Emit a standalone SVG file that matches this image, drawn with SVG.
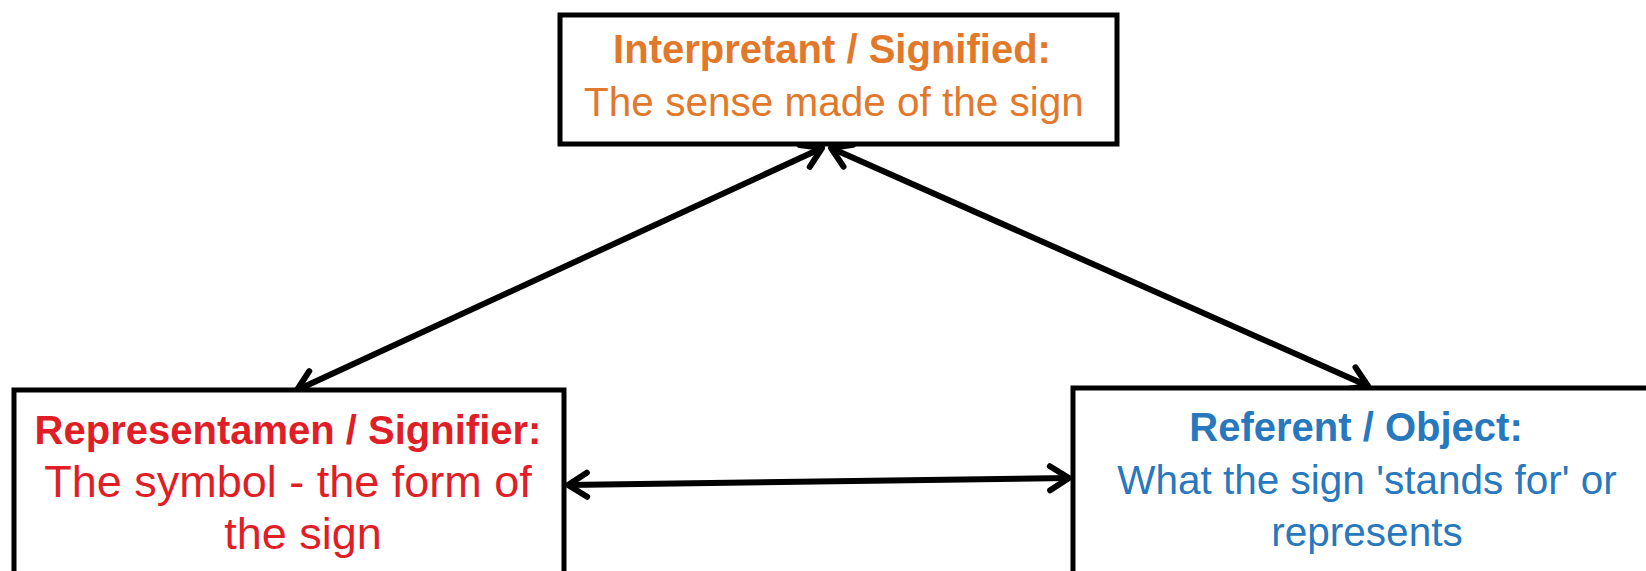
<svg xmlns="http://www.w3.org/2000/svg" width="1646" height="571" viewBox="0 0 1646 571">
<defs>
<style>
.box{fill:#fff;stroke:#000;stroke-width:5}
.t{font-family:"Liberation Sans",Arial,sans-serif;font-size:40.5px;text-anchor:middle}
.b{font-weight:bold;font-size:40px}
.big{font-size:45px}
.or{fill:#E2782A}
.rd{fill:#E01E25}
.bl{fill:#2878BE}
.con{stroke:#000;stroke-width:6;fill:none;marker-start:url(#arr);marker-end:url(#arr)}
</style>
<marker id="arr" viewBox="-4 -16 30 32" refX="22" refY="0" markerWidth="30" markerHeight="32" markerUnits="userSpaceOnUse" orient="auto-start-reverse">
<path d="M3,-12 L22,0 L3,12" fill="none" stroke="#000" stroke-width="6" stroke-linecap="round" stroke-linejoin="round"/>
</marker>
</defs>
<rect width="1646" height="571" fill="#fff"/>
<g id="connectors">
<line class="con" x1="822" y1="148" x2="297" y2="390"/>
<line class="con" x1="831" y1="148" x2="1368" y2="386"/>
<line class="con" x1="568" y1="485" x2="1069" y2="478"/>
</g>
<g id="interpretant">
<rect class="box" x="560" y="15" width="557" height="129"/>
<text class="t b or" x="832" y="63">Interpretant / Signified:</text>
<text class="t or" x="834" y="116">The sense made of the sign</text>
</g>
<g id="representamen">
<rect class="box" x="14" y="390" width="550" height="220"/>
<text class="t b rd" x="288" y="444">Representamen / Signifier:</text>
<text class="t rd big" x="288" y="497">The symbol - the form of</text>
<text class="t rd big" x="303" y="549">the sign</text>
</g>
<g id="referent">
<rect class="box" x="1073" y="388" width="640" height="220"/>
<text class="t b bl" x="1356" y="441">Referent / Object:</text>
<text class="t bl" x="1367" y="494">What the sign 'stands for' or</text>
<text class="t bl" x="1367" y="546">represents</text>
</g>
</svg>
